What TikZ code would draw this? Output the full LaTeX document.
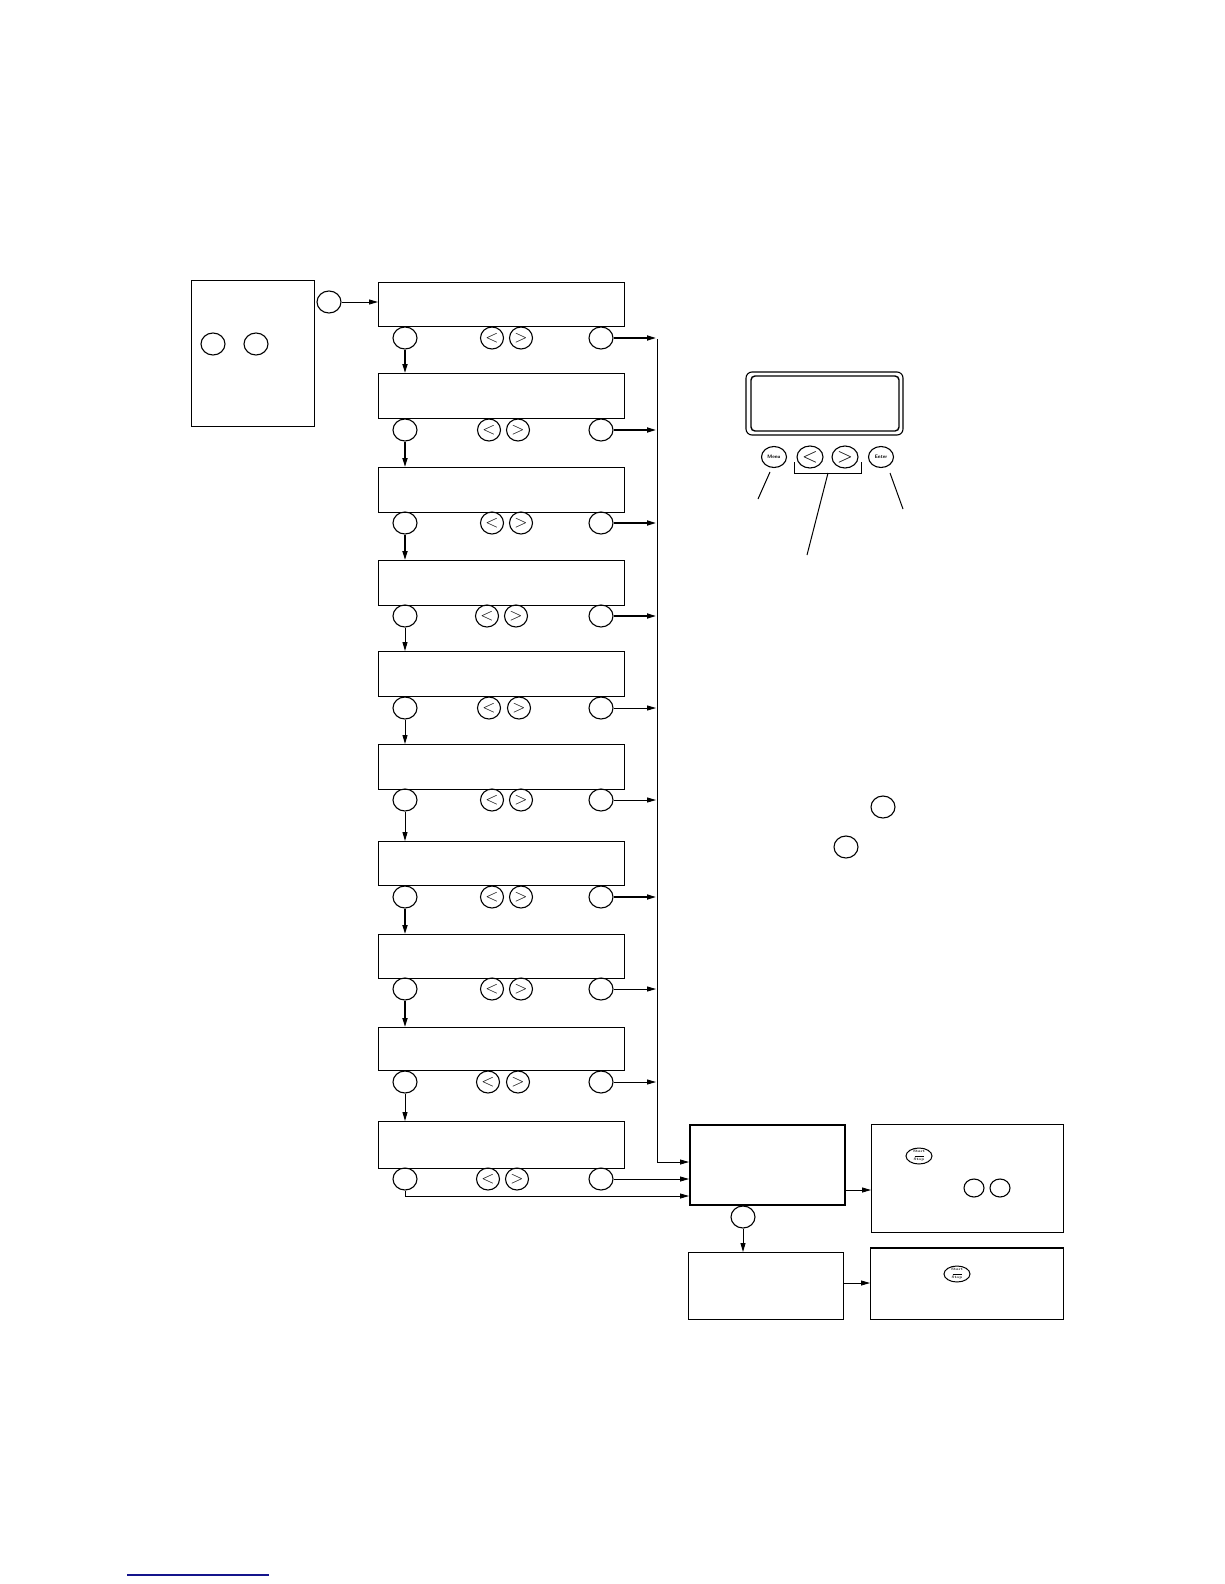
\documentclass[tikz,border=0pt]{standalone}
\usetikzlibrary{shapes.geometric,arrows.meta}
\begin{document}
\begin{tikzpicture}[x=1pt,y=-1pt,
  box/.style={draw, line width=1.4pt, inner sep=0pt, anchor=north west},
  btn/.style={draw, ellipse, line width=1.1pt, minimum width=24pt, minimum height=22pt, inner sep=0pt},
  sbtn/.style={draw, ellipse, line width=1.1pt, minimum width=20pt, minimum height=18pt, inner sep=0pt},
  chev/.style={btn, minimum width=23pt, font=\fontsize{17}{17}\selectfont},
  arr/.style={line width=0.9pt, -{Triangle[length=9pt,width=5pt]}},
  tarr/.style={line width=1.6pt, -{Triangle[length=9pt,width=5pt]}},
  ln/.style={line width=1pt},
  ss/.style={draw, ellipse, line width=1pt, minimum width=26pt, minimum height=16pt, inner sep=0pt,
    font=\fontsize{3.5}{3.5}\selectfont\bfseries}
]
\useasboundingbox (0,0) rectangle (1224,1584);
\fill[white] (0,0) rectangle (1224,1584);

% left box
\node[box, minimum width=123pt, minimum height=146pt] (lbox) at (191,280) {};
\node[btn] (lb1) at (213,344) {};
\node[btn] (lb2) at (256,344) {};
\node[btn] (menu0) at (329,302) {};
\coordinate (b1w) at (378,302);

% rows
\foreach \i/\t/\h/\c/\lx/\rx/\w in {
 1/282/44/338/492/521/tarr,
 2/373/45/430/489/518/tarr,
 3/467/45/523/492/521/tarr,
 4/560/45/616/487/516/tarr,
 5/651/45/708/489/519/arr,
 6/744/45/800/492/521/arr,
 7/841/44/897/492/521/tarr,
 8/934/44/989/492/521/arr,
 9/1027/43/1082/488/518/arr,
 10/1121/47/1179/488/517/arr}{
  \node[box, minimum width=246pt, minimum height=\h pt] (box\i) at (378,\t) {};
  \node[btn] (m\i) at (405,\c) {};
  \node[chev] (l\i) at (\lx,\c) {$<$};
  \node[chev] (r\i) at (\rx,\c) {$>$};
  \node[btn] (e\i) at (601,\c) {};
  \coordinate (bus\i) at (656,\c);
}
\draw[arr] (menu0.east) -- (b1w);
\foreach \i/\j/\w in {1/2/tarr,2/3/tarr,3/4/tarr,4/5/arr,5/6/arr,6/7/arr,7/8/tarr,8/9/tarr,9/10/arr}{
  \draw[\w] (m\i.south) -- (m\i.south |- box\j.north);
}
\foreach \i/\w in {1/tarr,2/tarr,3/tarr,4/tarr,5/arr,6/arr,7/tarr,8/arr,9/arr}{
  \draw[\w] (e\i.east) -- (bus\i);
}

% bus and target
\node[box, line width=2pt, minimum width=155pt, minimum height=80pt] (target) at (689,1124) {};
\coordinate (bustop) at (657,339);
\coordinate (busbot) at (657,1162);
\coordinate (t3) at (689,1196);
\draw[ln] (bustop) -- (busbot);
\draw[arr] (busbot) -- (busbot -| target.west);
\draw[arr] (e10.east) -- (e10.east -| target.west);
\draw[arr] (m10.south) |- (t3);

\node[btn] (tm) at (743,1217) {};
\node[box, minimum width=155pt, minimum height=67pt] (bot) at (688,1252) {};
\draw[arr] (tm.south) -- (tm.south |- bot.north);

\node[box, minimum width=192pt, minimum height=108pt] (rbox1) at (871,1124) {};
\node[box, minimum width=193pt, minimum height=71pt] (rbox2) at (870,1248) {};
\draw[line width=2pt] (rbox2.north west) -- (rbox2.north east);
\coordinate (tr) at (844,1190);
\coordinate (br) at (843,1283);
\draw[arr] (tr) -- (tr -| rbox1.west);
\draw[arr] (br) -- (br -| rbox2.west);
\node[ss] (ss1) at (919,1156) {\shortstack{Start\\[-0.3pt]\rule{9pt}{0.4pt}\\[-0.6pt]Stop}};
\node[sbtn] (rb1) at (974,1188) {};
\node[sbtn] (rb2) at (1000,1188) {};
\node[ss] (ss2) at (957,1274) {\shortstack{Start\\[-0.3pt]\rule{9pt}{0.4pt}\\[-0.6pt]Stop}};

% display panel
\draw[line width=1.1pt, rounded corners=6pt] (746,372) rectangle (903,435);
\draw[line width=1.4pt, rounded corners=4pt] (751,376) rectangle (899,431);
\node[btn, minimum width=25pt, minimum height=21pt, font=\sffamily\bfseries\fontsize{5}{5}\selectfont] (pmenu) at (774,457) {Menu};
\node[chev, minimum width=26pt, font=\fontsize{22}{22}\selectfont] (pl) at (810,457) {$<$};
\node[chev, minimum width=26pt, font=\fontsize{22}{22}\selectfont] (pr) at (845,457) {$>$};
\node[btn, minimum width=25pt, minimum height=21pt, font=\sffamily\bfseries\fontsize{5}{5}\selectfont] (penter) at (881,457) {Enter};
\coordinate (brL) at (794,462);
\coordinate (brR) at (861,462);
\coordinate (brM) at (828,473);
\draw[ln] (brL) -- (brL |- brM) -- (brR |- brM) -- (brR);
\coordinate (lead1) at (807,555);
\draw[ln] (brM) -- (lead1);
\coordinate (lead0a) at (770,472);
\coordinate (lead0b) at (758,499);
\draw[ln] (lead0a) -- (lead0b);
\coordinate (lead2a) at (890,473);
\coordinate (lead2b) at (903,509);
\draw[ln] (lead2a) -- (lead2b);

% loose buttons
\node[btn] (fb1) at (883,807) {};
\node[btn] (fb2) at (846,847) {};

% footer rule
\coordinate (fl) at (127,1575);
\coordinate (fr) at (269,1575);
\draw[line width=1.2pt, color={rgb,255:red,20;green,20;blue,140}] (fl) -- (fr);
\end{tikzpicture}
\end{document}
